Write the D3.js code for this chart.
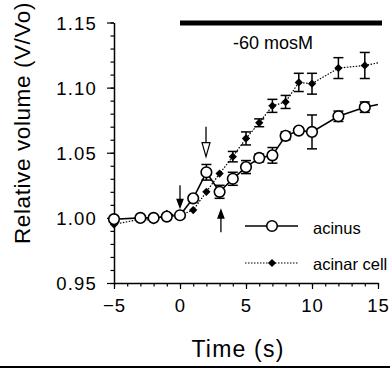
<!DOCTYPE html>
<html>
<head>
<meta charset="utf-8">
<script src="https://cdn.jsdelivr.net/npm/d3@7"></script>
<style>
  body { margin: 0; background: #fff; }
  svg { display: block; font-family: "Liberation Sans", Arial, sans-serif; }
</style>
</head>
<body>
<div id="chart"></div>
<script>
// Time points (s)
const times = [-5, -3, -2, -1, 0, 1, 2, 3, 4, 5, 6, 7, 8, 9, 10, 12, 14];
// Acinus (open circles)
const acinus = [0.999, 1.000, 1.000, 1.001, 1.002, 1.015, 1.035, 1.020, 1.030, 1.039, 1.046, 1.048, 1.063, 1.067, 1.066, 1.078, 1.085];
const acinusErr = [0, 0, 0, 0, 0, 0, 0.006, 0.005, 0.005, 0.005, 0.003, 0.006, 0.003, 0, 0.013, 0.004, 0.004];
// Acinar cell (filled diamonds)
const acinar = [0.995, 0.999, 0.998, 1.003, 1.002, 1.006, 1.020, 1.034, 1.047, 1.061, 1.073, 1.086, 1.089, 1.104, 1.103, 1.115, 1.117];
const acinarErr = [0, 0, 0, 0, 0, 0, 0, 0, 0.004, 0.005, 0.003, 0.005, 0.005, 0.007, 0.008, 0.008, 0.010];
// where the drawn lines end (no marker)
const tailTime = 15;
const acinusTail = 1.087;
const acinarTail = 1.119;

const xTicks = [-5, 0, 5, 10, 15];
const yTicks = [0.95, 1.00, 1.05, 1.10, 1.15];
const stimulus = { start: 0, end: 15, label: "-60 mosM" };
// arrows: time, from value, to value, open head?
const arrows = [
  { t: 0, from: 1.025, to: 1.008, open: false },
  { t: 1.97, from: 1.070, to: 1.047, open: true },
  { t: 3.1, from: 0.989, to: 1.006, open: false }
];

const W = 390, H = 370;
const svg = d3.select("#chart").append("svg")
  .attr("width", W).attr("height", H);

const x = d3.scaleLinear().domain([-5, 15]).range([114, 378]);
const y = d3.scaleLinear().domain([0.95, 1.15]).range([283, 22.5]);

// Axes: major + minor ticks
svg.append("g")
   .attr("transform", `translate(0,${y(0.95)})`)
   .call(d3.axisBottom(x).tickValues(d3.range(-5, 16, 1)).tickSize(3.5).tickFormat(""))
   .call(g => g.select(".domain").remove());
const xa = svg.append("g")
   .attr("transform", `translate(0,${y(0.95)})`)
   .call(d3.axisBottom(x).tickValues(xTicks).tickSize(6).tickSizeOuter(0).tickPadding(10).tickFormat(d3.format("d")));
xa.selectAll("text").attr("font-size", 18.5).style("letter-spacing", "1px");

svg.append("g")
   .attr("transform", `translate(${x(-5)},0)`)
   .call(d3.axisLeft(y).tickValues(d3.range(95, 116, 1).map(d => d / 100)).tickSize(3.5).tickFormat(""))
   .call(g => g.select(".domain").remove());
const ya = svg.append("g")
   .attr("transform", `translate(${x(-5)},0)`)
   .call(d3.axisLeft(y).tickValues(yTicks).tickSize(7).tickSizeOuter(0).tickPadding(10).tickFormat(d3.format(".2f")));
ya.selectAll("text").attr("font-size", 18.5).style("letter-spacing", "1.2px").attr("dy", "0.36em");

svg.selectAll(".domain").attr("stroke-width", 1.5);
svg.selectAll(".tick line").attr("stroke-width", 1.2);

// Axis titles
svg.append("text")
   .attr("x", 238).attr("y", 357)
   .attr("text-anchor", "middle")
   .attr("font-size", 23)
   .style("letter-spacing", "1.2px")
   .text("Time (s)");
svg.append("text")
   .attr("transform", "translate(30,123) rotate(-90)")
   .attr("text-anchor", "middle")
   .attr("font-size", 22.5)
   .style("letter-spacing", "0.6px")
   .text("Relative volume (V/Vo)");

// bottom rule
svg.append("line")
   .attr("x1", 0).attr("x2", W).attr("y1", 367).attr("y2", 367)
   .attr("stroke", "#000").attr("stroke-width", 2);

// Stimulus bar
svg.append("line")
   .attr("x1", x(stimulus.start)).attr("x2", x(stimulus.end) + 4)
   .attr("y1", 23).attr("y2", 23)
   .attr("stroke", "#000").attr("stroke-width", 5);
svg.append("text")
   .attr("x", 273).attr("y", 49)
   .attr("text-anchor", "middle")
   .attr("font-size", 18)
   .text(stimulus.label);

const rows = times.map((t, i) => ({ t, a: acinus[i], ae: acinusErr[i], c: acinar[i], ce: acinarErr[i] }));

// Lines
const line = d3.line().x(d => x(d[0])).y(d => y(d[1]));
svg.append("path")
   .datum(times.map((t, i) => [t, acinar[i]]).concat([[tailTime, acinarTail]]))
   .attr("d", line)
   .attr("fill", "none").attr("stroke", "#000").attr("stroke-width", 1.2)
   .attr("stroke-dasharray", "1.5,1.5");
svg.append("path")
   .datum(times.map((t, i) => [t, acinus[i]]).concat([[tailTime, acinusTail]]))
   .attr("d", line)
   .attr("fill", "none").attr("stroke", "#000").attr("stroke-width", 1.6);

// Error bars
function errorBars(key, errKey) {
  const g = svg.append("g").attr("stroke", "#000").attr("stroke-width", 1.5);
  rows.filter(d => d[errKey] > 0).forEach(d => {
    const cx = x(d.t), y1 = y(d[key] + d[errKey]), y2 = y(d[key] - d[errKey]);
    g.append("line").attr("x1", cx).attr("x2", cx).attr("y1", y1).attr("y2", y2);
    g.append("line").attr("x1", cx - 5).attr("x2", cx + 5).attr("y1", y1).attr("y2", y1);
    g.append("line").attr("x1", cx - 5).attr("x2", cx + 5).attr("y1", y2).attr("y2", y2);
  });
}
errorBars("c", "ce");
errorBars("a", "ae");

// Markers (diamond = square turned 45deg)
const diamond = d3.symbol().type(d3.symbolSquare).size(34);
svg.append("g").selectAll("path")
   .data(rows).join("path")
   .attr("transform", d => `translate(${x(d.t)},${y(d.c)}) rotate(45)`)
   .attr("d", diamond)
   .attr("fill", "#000");
svg.append("g").selectAll("circle")
   .data(rows).join("circle")
   .attr("cx", d => x(d.t)).attr("cy", d => y(d.a))
   .attr("r", 5.3)
   .attr("fill", "#fff").attr("stroke", "#000").attr("stroke-width", 1.6);

// Arrows
arrows.forEach(a => {
  const ax = x(a.t), y0 = y(a.from), y1 = y(a.to);
  const dir = y1 > y0 ? 1 : -1;
  const headLen = a.open ? 14 : 8, headW = a.open ? 4 : 3;
  svg.append("line")
     .attr("x1", ax).attr("x2", ax)
     .attr("y1", y0).attr("y2", a.open ? y1 - dir * headLen : y1 - dir * 2)
     .attr("stroke", "#000").attr("stroke-width", 1.3);
  svg.append("path")
     .attr("d", `M${ax - headW},${y1 - dir * headLen} L${ax + headW},${y1 - dir * headLen} L${ax},${y1} Z`)
     .attr("fill", a.open ? "#fff" : "#000")
     .attr("stroke", "#000").attr("stroke-width", 1.2);
});

// Legend
const legend = svg.append("g");
legend.append("line").attr("x1", 245).attr("x2", 298).attr("y1", 226).attr("y2", 226)
      .attr("stroke", "#000").attr("stroke-width", 1.6);
legend.append("circle").attr("cx", 272).attr("cy", 226).attr("r", 5.3)
      .attr("fill", "#fff").attr("stroke", "#000").attr("stroke-width", 1.6);
legend.append("text").attr("x", 313).attr("y", 234).attr("font-size", 16.5).text("acinus");
legend.append("line").attr("x1", 245).attr("x2", 298).attr("y1", 263).attr("y2", 263)
      .attr("stroke", "#000").attr("stroke-width", 1.2).attr("stroke-dasharray", "1.5,1.5");
legend.append("path").attr("transform", "translate(272,263) rotate(45)").attr("d", diamond).attr("fill", "#000");
legend.append("text").attr("x", 313).attr("y", 270).attr("font-size", 16.5).text("acinar cell");
</script>
</body>
</html>
